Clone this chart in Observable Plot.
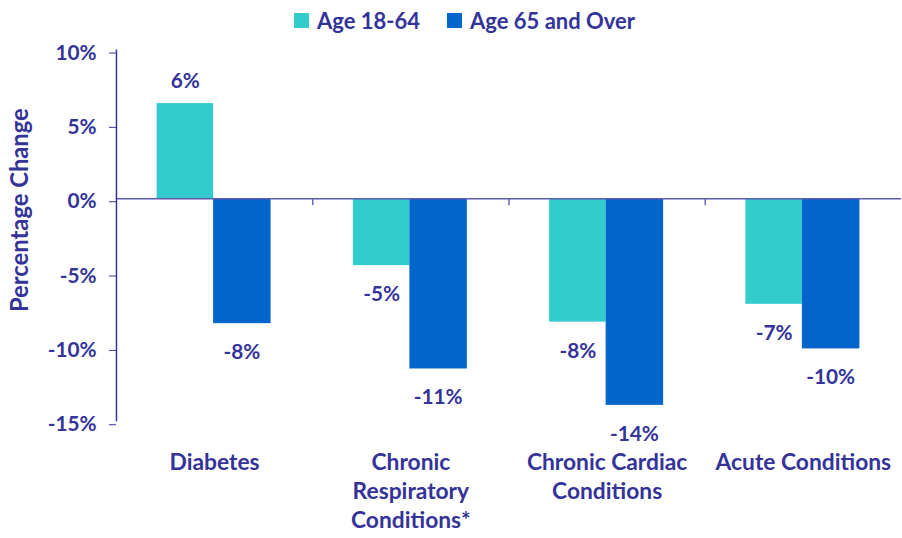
<!DOCTYPE html>
<html><head><meta charset="utf-8">
<script src="https://cdn.jsdelivr.net/npm/d3@7"></script>
<script src="https://cdn.jsdelivr.net/npm/@observablehq/plot@0.6"></script>
<style>
html,body{margin:0;padding:0;background:#fff;overflow:hidden;}
#wrap{position:relative;width:902px;height:538px;overflow:hidden;font-family:Lato,sans-serif;font-weight:700;color:#333399;}
.lg{position:absolute;top:0;height:40px;display:flex;align-items:center;font-size:22px;white-space:nowrap;}
.sw{width:15px;height:15px;margin-right:8px;}
#chart{position:absolute;left:0;top:0;}
</style></head><body>
<div id="wrap"><div id="chart"></div><div id="legend"></div></div>
<script>
const categories = ["Diabetes", "Chronic\nRespiratory\nConditions*", "Chronic Cardiac\nConditions", "Acute Conditions"];
const series = ["Age 18-64", "Age 65 and Over"];
const age18to64 = [6.4, -4.5, -8.3, -7.1];
const age65plus = [-8.4, -11.45, -13.9, -10.1];
const yTicks = [-15, -10, -5, 0, 5, 10];
const colors = ["#33CCCC", "#0066CC"];

const textColor = "#333399";
const W = 910, H = 538, mL = 117, mR = 1, mT = 50, mB = 113;
const bandW = (W - mL - mR) / categories.length;

const rows = categories.flatMap((c, i) => [
  {cat: c, series: series[0], value: age18to64[i]},
  {cat: c, series: series[1], value: age65plus[i]}
]);
const fmt = v => v.toFixed(0) + "%";
const barInsets = [{l: 41, r: 100}, {l: 98, r: 42}];
const labelDx = [-29.5, 27.5];
const FS = 21;

const marks = [];
series.forEach((s, k) => {
  const data = rows.filter(d => d.series === s);
  marks.push(Plot.barY(data, {x: "cat", y: "value", fill: "series", insetLeft: barInsets[k].l, insetRight: barInsets[k].r}));
});
marks.push(Plot.ruleY([0], {stroke: "#5b5bb0", strokeWidth: 1.5}));
marks.push(Plot.ruleX(categories.slice(1), {x: d => d, y1: 0, y2: 0, insetBottom: -7, dx: -bandW / 2, stroke: "#6666bb", strokeWidth: 1.5}));
marks.push(Plot.ruleX([categories[0]], {x: d => d, y1: -15, y2: 10, dx: -bandW / 2, stroke: textColor, strokeWidth: 1.5}));
series.forEach((s, k) => {
  const data = rows.filter(d => d.series === s);
  marks.push(Plot.text(data.filter(d => d.value >= 0), {x: "cat", y: "value", text: d => fmt(d.value), dx: labelDx[k], dy: -22, fill: textColor, fontSize: FS, fontWeight: 700}));
  marks.push(Plot.text(data.filter(d => d.value < 0), {x: "cat", y: "value", text: d => fmt(d.value), dx: labelDx[k], dy: 29, fill: textColor, fontSize: FS, fontWeight: 700}));
});
marks.push(Plot.axisY({ticks: yTicks, tickSize: 7, tickPadding: 13, tickFormat: d => d + "%", label: null, fontSize: FS, fontWeight: 700, color: textColor, dy: 3}));
marks.push(Plot.axisX({tickSize: 0, tickPadding: 28.5, lineHeight: 1.26, label: null, fontSize: 23, fontWeight: 700, color: textColor}));
marks.push(Plot.text(["Percentage Change"], {frameAnchor: "left", textAnchor: "middle", rotate: -90, dx: -97, dy: -26, fill: textColor, fontSize: 24, fontWeight: 700}));

const chart = Plot.plot({
  width: W, height: H,
  marginLeft: mL, marginRight: mR, marginTop: mT, marginBottom: mB,
  style: {fontFamily: "Lato, sans-serif", fontWeight: 700, background: "#fff", color: textColor},
  x: {domain: categories, paddingInner: 0, paddingOuter: 0, axis: null},
  y: {domain: [-15, 10], axis: null},
  color: {domain: series, range: colors},
  marks
});
document.getElementById("chart").appendChild(chart);

const legendPos = [294, 447];
const lg = document.getElementById("legend");
series.forEach((s, k) => {
  const item = document.createElement("div");
  item.className = "lg";
  item.style.left = legendPos[k] + "px";
  const sw = document.createElement("div");
  sw.className = "sw";
  sw.style.background = colors[k];
  const t = document.createElement("span");
  t.textContent = s;
  item.appendChild(sw); item.appendChild(t);
  lg.appendChild(item);
});
</script>
</body></html>
